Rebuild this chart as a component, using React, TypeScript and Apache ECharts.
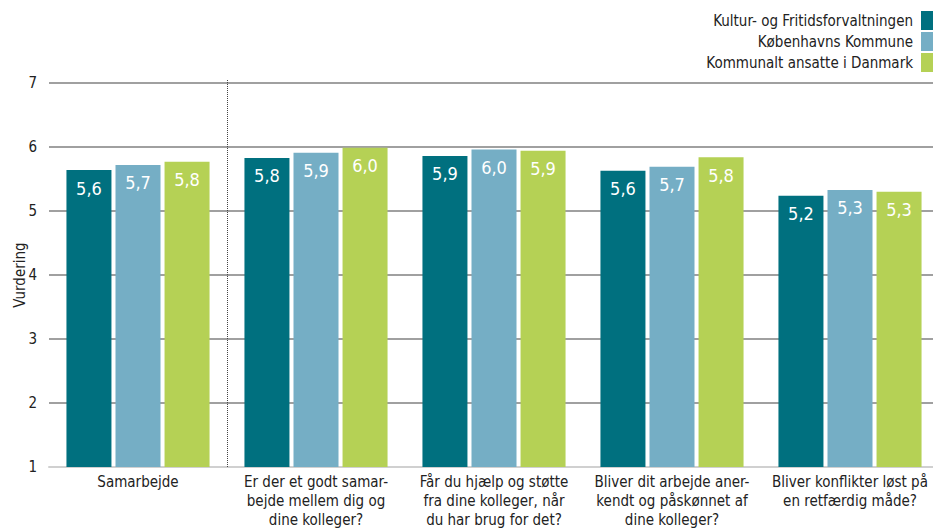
import React, { useEffect, useRef } from "react";
import * as echarts from "echarts";

const categories = [
  "Samarbejde",
  "Er der et godt samar-\nbejde mellem dig og\ndine kolleger?",
  "Får du hjælp og støtte\nfra dine kolleger, når\ndu har brug for det?",
  "Bliver dit arbejde aner-\nkendt og påskønnet af\ndine kolleger?",
  "Bliver konflikter løst på\nen retfærdig måde?",
];
const seriesNames = [
  "Kultur- og Fritidsforvaltningen",
  "Københavns Kommune",
  "Kommunalt ansatte i Danmark",
];
const kultur = [5.64, 5.83, 5.86, 5.63, 5.24];
const kbh = [5.72, 5.91, 5.96, 5.69, 5.33];
const danmark = [5.77, 5.99, 5.94, 5.84, 5.3];
const colors = ["#00707F", "#75AEC5", "#B5D155"];
const yTicks = [1, 2, 3, 4, 5, 6, 7];

const FONT = "'DejaVu Sans Condensed', 'DejaVu Sans', sans-serif";

export default function App() {
  const ref = useRef<HTMLDivElement>(null);
  useEffect(() => {
    document.body.style.margin = "0";
    const chart = echarts.init(ref.current!, null, { renderer: "svg" });
    const data = [kultur, kbh, danmark];
    chart.setOption({
      animation: false,
      textStyle: { fontFamily: FONT },
      legend: {
        orient: "vertical",
        right: 0,
        top: 11,
        padding: 0,
        align: "right",
        itemWidth: 12,
        itemHeight: 19,
        itemGap: 2,
        icon: "rect",
        textStyle: { fontSize: 15, color: "#222", fontFamily: FONT, padding: [0, 3, 0, 0] },
        data: seriesNames,
      },
      grid: {
        left: 49,
        width: 890,
        top: 83,
        bottom: 62,
        containLabel: false,
        outerBoundsMode: "none",
      },
      xAxis: {
        type: "category",
        data: categories,
        axisLine: { show: true, lineStyle: { color: "#d0d0d0", width: 2 } },
        axisTick: { show: false },
        axisLabel: {
          interval: 0,
          fontSize: 15,
          color: "#222",
          lineHeight: 19,
          margin: 5,
          fontFamily: FONT,
        },
      },
      yAxis: {
        type: "value",
        min: yTicks[0],
        max: yTicks[yTicks.length - 1],
        interval: 1,
        name: "Vurdering",
        nameLocation: "middle",
        nameGap: 22,
        nameRotate: 90,
        nameMoveOverlap: false,
        nameTextStyle: { fontSize: 15, color: "#222", fontFamily: FONT },
        axisLine: { show: false },
        axisTick: { show: false },
        axisLabel: { fontSize: 15, color: "#222", margin: 12, fontFamily: FONT },
        splitLine: { lineStyle: { color: "#a0a0a0", width: 2 } },
      },
      series: seriesNames.map((name, i) => ({
        name,
        type: "bar",
        data: data[i],
        barWidth: 45,
        barGap: "9%",
        itemStyle: { color: colors[i] },
        label: {
          show: true,
          position: "insideTop",
          distance: 9,
          color: "#fff",
          fontSize: 18,
          fontFamily: FONT,
          formatter: (p: any) => Number(p.value).toFixed(1).replace(".", ","),
        },
      })),
    });
    const c0 = chart.convertToPixel({ xAxisIndex: 0 }, 0) as number;
    const c1 = chart.convertToPixel({ xAxisIndex: 0 }, 1) as number;
    const top = chart.convertToPixel({ yAxisIndex: 0 }, 7) as number;
    const bot = chart.convertToPixel({ yAxisIndex: 0 }, 1) as number;
    const xb = Math.round((c0 + c1) / 2) + 0.5;
    chart.setOption({
      graphic: [
        {
          type: "line",
          shape: { x1: xb, y1: top - 3, x2: xb, y2: bot },
          style: { stroke: "#444", lineWidth: 1, lineDash: [1, 1] },
          z: 10,
        },
      ],
    });
    return () => chart.dispose();
  }, []);
  return <div ref={ref} style={{ position: "absolute", left: 0, top: 0, width: 933, height: 529 }} />;
}
